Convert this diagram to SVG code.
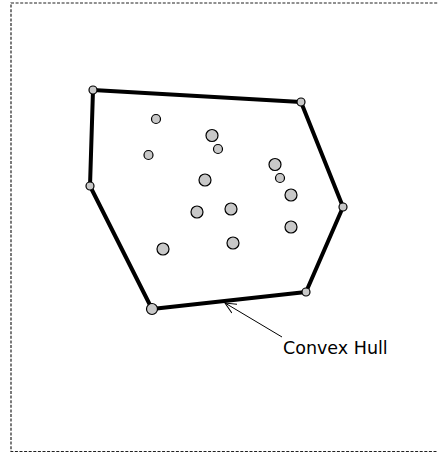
<svg xmlns="http://www.w3.org/2000/svg" width="438" height="454" viewBox="0 0 438 454">
<defs>
<style>
.border{fill:none;stroke:#222;stroke-width:1.2;stroke-dasharray:3 1.6}
.hull{fill:none;stroke:#000;stroke-width:4;stroke-linejoin:round}
.pt{fill:#c8c8c8;stroke:#000;stroke-width:1.2}
.lbl{font-family:"DejaVu Sans",sans-serif;font-size:17.5px;fill:#000}
.arr{fill:none;stroke:#000;stroke-width:1}
</style>
<marker id="open" viewBox="0 0 12 12" refX="11" refY="6" markerWidth="12" markerHeight="12" markerUnits="userSpaceOnUse" orient="auto">
<path d="M0,1 L11,6 L0,11" fill="none" stroke="#000" stroke-width="1"/>
</marker>
</defs>
<rect class="border" x="11" y="3" width="460" height="448.5"/>
<g id="connectors">
<polygon class="hull" points="93,90 301,102 343,207 306,292 152,309 90,186"/>
<line class="arr" x1="282" y1="337" x2="225" y2="303" marker-end="url(#open)"/>
</g>
<g id="hull-points">
<circle class="pt" cx="93" cy="90" r="4"/>
<circle class="pt" cx="301" cy="102" r="4"/>
<circle class="pt" cx="343" cy="207" r="4"/>
<circle class="pt" cx="306" cy="292" r="4"/>
<circle class="pt" cx="152" cy="309" r="5.5"/>
<circle class="pt" cx="90" cy="186" r="4"/>
</g>
<g id="interior-points">
<circle class="pt" cx="156" cy="119" r="4.5"/>
<circle class="pt" cx="212" cy="135.5" r="6"/>
<circle class="pt" cx="218" cy="149" r="4.5"/>
<circle class="pt" cx="148.5" cy="155" r="4.5"/>
<circle class="pt" cx="275" cy="164.5" r="6"/>
<circle class="pt" cx="280" cy="178" r="4.5"/>
<circle class="pt" cx="205" cy="180" r="6"/>
<circle class="pt" cx="291" cy="195" r="6"/>
<circle class="pt" cx="197" cy="212" r="6"/>
<circle class="pt" cx="231" cy="209" r="6"/>
<circle class="pt" cx="291" cy="227" r="6"/>
<circle class="pt" cx="163" cy="249" r="6"/>
<circle class="pt" cx="233" cy="243" r="6"/>
</g>
<g id="label">
<text class="lbl" x="283" y="354">Convex Hull</text>
</g>
</svg>
